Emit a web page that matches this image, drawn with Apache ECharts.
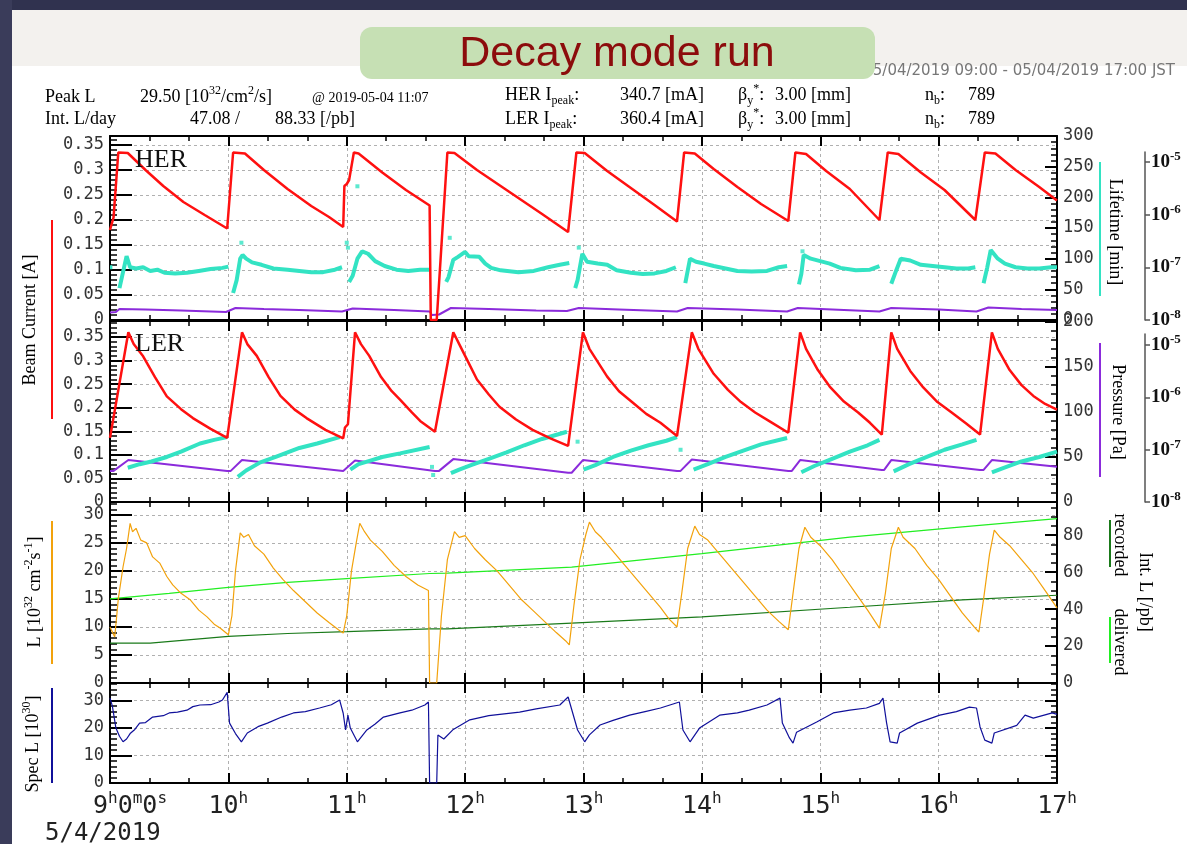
<!DOCTYPE html>
<html>
<head>
<meta charset="utf-8">
<title>Decay mode run</title>
<script src="https://cdn.jsdelivr.net/npm/echarts@6/dist/echarts.min.js"></script>
<style>
    html, body { margin: 0; padding: 0; background: #fff; }
    #chart { width: 1187px; height: 844px; }
</style>
</head>
<body>
<div id="chart"></div>
<script>
    // time axis is in decimal hours of 2019-05-04 (JST)
    const hourLabels = ['9', '10', '11', '12', '13', '14', '15', '16', '17'];

    // HER beam current [A]
    const herCurrent = [
        [9.00, 0.180], [9.03, 0.205], [9.07, 0.335], [9.15, 0.334], [9.30, 0.300], [9.45, 0.268], [9.62, 0.236], [9.80, 0.210], [9.99, 0.183],
        [10.04, 0.335], [10.14, 0.333], [10.30, 0.300], [10.50, 0.262], [10.70, 0.228], [10.85, 0.206], [10.97, 0.186],
        [10.98, 0.268], [11.00, 0.272], [11.02, 0.280], [11.06, 0.335], [11.10, 0.333], [11.30, 0.295], [11.50, 0.260], [11.70, 0.229],
        [11.71, 0.000], [11.76, 0.000], [11.85, 0.335], [11.91, 0.334], [12.10, 0.300], [12.40, 0.252], [12.65, 0.212], [12.87, 0.176],
        [12.94, 0.335], [13.01, 0.334], [13.20, 0.298], [13.40, 0.264], [13.60, 0.230], [13.79, 0.197],
        [13.85, 0.335], [13.94, 0.333], [14.10, 0.302], [14.30, 0.266], [14.50, 0.232], [14.73, 0.198],
        [14.79, 0.335], [14.88, 0.332], [15.05, 0.298], [15.25, 0.262], [15.50, 0.200],
        [15.57, 0.335], [15.66, 0.332], [15.85, 0.295], [16.05, 0.260], [16.31, 0.200],
        [16.39, 0.335], [16.48, 0.333], [16.65, 0.300], [16.85, 0.266], [17.00, 0.239]
    ];
    // HER beam lifetime [min]
    const herLifetime = [
        [9.00, 86], [9.02, 86], null,
        [9.08, 52], [9.11, 78], [9.14, 104], [9.17, 86], [9.22, 84], [9.28, 86], [9.34, 80], [9.40, 82], [9.46, 77], [9.55, 76], [9.65, 77], [9.75, 80], [9.85, 83], [9.95, 85], [10.00, 87], null,
        [10.04, 44], [10.07, 65], [10.10, 100], [10.12, 106], [10.15, 100], [10.20, 94], [10.28, 90], [10.38, 84], [10.50, 82], [10.60, 80], [10.70, 78], [10.80, 78], [10.90, 82], [10.96, 86], null,
        [11.02, 62], [11.05, 72], [11.09, 100], [11.13, 112], [11.18, 108], [11.24, 96], [11.32, 88], [11.42, 82], [11.52, 80], [11.62, 82], [11.70, 82], null,
        [11.84, 62], [11.86, 70], [11.90, 98], [11.94, 103], [12.00, 111], [12.03, 104], [12.12, 103], [12.17, 92], [12.22, 85], [12.30, 81], [12.45, 78], [12.58, 80], [12.70, 86], [12.80, 90], [12.88, 93], null,
        [12.93, 52], [12.95, 65], [12.99, 108], [13.03, 95], [13.12, 92], [13.20, 90], [13.28, 81], [13.40, 77], [13.50, 75], [13.60, 76], [13.70, 80], [13.78, 86], null,
        [13.86, 60], [13.90, 100], [13.95, 95], [14.02, 92], [14.10, 88], [14.20, 84], [14.30, 80], [14.42, 79], [14.55, 80], [14.65, 86], [14.72, 88], null,
        [14.82, 58], [14.84, 75], [14.86, 106], [14.92, 100], [15.00, 96], [15.08, 92], [15.17, 85], [15.30, 81], [15.42, 82], [15.50, 88], null,
        [15.60, 59], [15.64, 80], [15.68, 100], [15.76, 97], [15.85, 90], [15.95, 88], [16.05, 86], [16.15, 84], [16.25, 84], [16.31, 86], null,
        [16.38, 60], [16.41, 85], [16.44, 114], [16.50, 100], [16.56, 92], [16.65, 86], [16.75, 84], [16.85, 84], [16.95, 86], [17.00, 86]
    ];
    const herLifetimeDots = [[10.11, 126], [11.00, 126], [11.01, 118], [11.09, 218], [11.87, 134], [12.96, 118], [14.85, 112]];
    // HER vacuum trace, drawn on the current scale
    const herPressure = [
        [9.00, 0.015], [9.05, 0.016], [9.08, 0.022], [9.30, 0.021], [9.60, 0.019], [9.98, 0.016], [10.06, 0.024], [10.30, 0.022], [10.60, 0.020],
        [10.96, 0.017], [11.05, 0.023], [11.40, 0.020], [11.70, 0.017], [11.72, 0.010], [11.78, 0.011], [11.88, 0.024], [12.20, 0.022], [12.60, 0.019],
        [12.86, 0.018], [12.96, 0.024], [13.30, 0.021], [13.79, 0.017], [13.88, 0.024], [14.30, 0.021], [14.72, 0.017], [14.81, 0.024], [15.20, 0.020],
        [15.50, 0.017], [15.60, 0.024], [16.00, 0.021], [16.32, 0.017], [16.42, 0.025], [16.70, 0.022], [17.00, 0.020]
    ];

    // LER beam current [A]
    const lerCurrent = [
        [9.00, 0.136], [9.155, 0.360], [9.20, 0.335], [9.28, 0.309], [9.38, 0.265], [9.48, 0.224], [9.60, 0.197], [9.70, 0.178], [9.85, 0.155], [9.99, 0.136],
        [10.115, 0.360], [10.16, 0.335], [10.24, 0.310], [10.34, 0.265], [10.44, 0.225], [10.56, 0.196], [10.66, 0.178], [10.82, 0.153], [10.97, 0.135],
        [10.985, 0.158], [11.01, 0.165], [11.07, 0.360], [11.12, 0.335], [11.19, 0.310], [11.29, 0.265], [11.38, 0.235], [11.45, 0.217], [11.55, 0.190], [11.62, 0.172], [11.745, 0.149],
        [11.90, 0.360], [11.95, 0.335], [12.02, 0.300], [12.10, 0.260], [12.20, 0.228], [12.29, 0.202], [12.43, 0.175], [12.57, 0.153], [12.72, 0.135], [12.87, 0.119],
        [12.995, 0.360], [13.05, 0.325], [13.20, 0.266], [13.30, 0.235], [13.42, 0.210], [13.53, 0.187], [13.65, 0.168], [13.79, 0.140],
        [13.915, 0.360], [13.97, 0.325], [14.10, 0.272], [14.22, 0.238], [14.33, 0.212], [14.45, 0.190], [14.58, 0.170], [14.73, 0.147],
        [14.83, 0.360], [14.88, 0.325], [14.98, 0.280], [15.08, 0.245], [15.20, 0.213], [15.32, 0.190], [15.42, 0.168], [15.52, 0.143],
        [15.60, 0.360], [15.65, 0.325], [15.76, 0.278], [15.87, 0.243], [15.99, 0.212], [16.11, 0.190], [16.23, 0.167], [16.35, 0.143],
        [16.45, 0.360], [16.50, 0.325], [16.60, 0.280], [16.70, 0.248], [16.80, 0.225], [16.90, 0.208], [17.00, 0.196]
    ];
    // LER beam lifetime, right scale
    const lerLifetime = [
        [9.15, 38], [9.25, 42], [9.35, 45], [9.48, 50], [9.60, 56], [9.76, 65], [9.88, 69], [9.99, 72], null,
        [10.08, 28], [10.15, 35], [10.27, 44], [10.40, 50], [10.60, 60], [10.75, 65], [10.94, 72], null,
        [11.03, 36], [11.10, 42], [11.20, 46], [11.30, 50], [11.45, 54], [11.70, 61], null,
        [11.88, 32], [11.95, 36], [12.05, 41], [12.20, 48], [12.35, 55], [12.50, 63], [12.65, 70], [12.86, 78], null,
        [13.00, 36], [13.10, 41], [13.25, 50], [13.40, 57], [13.55, 63], [13.70, 68], [13.79, 72], null,
        [13.93, 36], [14.05, 42], [14.20, 50], [14.35, 57], [14.50, 64], [14.72, 71], null,
        [14.84, 33], [14.95, 40], [15.10, 48], [15.25, 56], [15.40, 63], [15.50, 69], null,
        [15.62, 34], [15.75, 42], [15.90, 50], [16.05, 58], [16.20, 64], [16.32, 69], null,
        [16.45, 33], [16.55, 38], [16.70, 45], [16.85, 50], [17.00, 56]
    ];
    const lerLifetimeDots = [[11.72, 39], [11.73, 30], [12.95, 67], [13.82, 58]];
    // LER vacuum trace, drawn on the current scale
    const lerPressure = [
        [9.00, 0.066], [9.03, 0.066], [9.155, 0.089], [9.99, 0.066], [10.02, 0.066], [10.115, 0.089], [10.97, 0.066], [11.07, 0.088],
        [11.745, 0.066], [11.78, 0.066], [11.90, 0.091], [12.87, 0.062], [12.90, 0.062], [12.995, 0.089], [13.79, 0.066], [13.82, 0.066],
        [13.915, 0.090], [14.73, 0.066], [14.76, 0.066], [14.83, 0.089], [15.52, 0.068], [15.54, 0.068], [15.60, 0.089], [16.35, 0.068],
        [16.38, 0.068], [16.45, 0.089], [17.00, 0.075]
    ];

    // luminosity [1e32 cm-2 s-1]
    const luminosity = [
        [9.00, 10.0], [9.04, 8.2], [9.07, 15.0], [9.11, 20.7], [9.14, 24.0], [9.17, 28.5], [9.19, 27.0], [9.22, 27.6], [9.26, 25.5], [9.31, 25.0], [9.36, 22.5], [9.42, 21.4], [9.48, 19.0], [9.53, 17.5], [9.60, 16.0], [9.68, 14.8], [9.75, 13.0], [9.82, 11.8], [9.88, 10.5], [9.93, 9.8], [10.00, 8.6],
        [10.03, 12.0], [10.06, 20.0], [10.10, 26.8], [10.13, 26.0], [10.17, 26.5], [10.22, 24.5], [10.30, 23.0], [10.38, 20.5], [10.46, 18.5], [10.55, 16.5], [10.65, 14.5], [10.75, 12.5], [10.85, 10.8], [10.93, 9.5], [10.97, 8.9],
        [11.00, 12.0], [11.04, 20.0], [11.08, 25.0], [11.11, 28.5], [11.15, 27.0], [11.20, 25.5], [11.30, 23.5], [11.40, 21.0], [11.50, 19.0], [11.60, 17.5], [11.69, 16.5], [11.70, 0], [11.76, 0], [11.80, 12.0], [11.85, 22.0], [11.91, 27.0],
        [11.95, 26.0], [12.00, 26.3], [12.08, 24.0], [12.17, 22.0], [12.27, 20.0], [12.37, 17.5], [12.47, 15.0], [12.57, 13.0], [12.67, 11.0], [12.77, 9.0], [12.85, 7.5], [12.88, 6.8],
        [12.92, 14.0], [12.97, 22.0], [13.02, 26.5], [13.05, 28.7], [13.10, 27.0], [13.15, 26.0], [13.25, 23.5], [13.35, 21.0], [13.45, 18.5], [13.55, 16.0], [13.65, 13.5], [13.72, 11.5], [13.79, 10.0],
        [13.83, 16.0], [13.88, 24.0], [13.94, 28.0], [13.98, 26.5], [14.05, 25.5], [14.15, 23.0], [14.25, 20.5], [14.35, 18.0], [14.45, 15.5], [14.55, 13.0], [14.65, 11.0], [14.73, 9.5],
        [14.77, 16.0], [14.82, 24.0], [14.87, 27.8], [14.92, 26.0], [15.00, 24.5], [15.10, 22.0], [15.20, 19.0], [15.30, 16.0], [15.40, 13.0], [15.50, 9.8],
        [15.55, 16.0], [15.60, 24.0], [15.66, 27.8], [15.70, 26.0], [15.80, 24.0], [15.90, 21.0], [16.00, 18.5], [16.10, 15.5], [16.20, 12.5], [16.30, 10.0], [16.34, 9.1],
        [16.38, 15.0], [16.43, 23.0], [16.47, 27.3], [16.52, 26.0], [16.60, 24.5], [16.70, 22.0], [16.80, 19.5], [16.90, 16.5], [17.00, 13.4]
    ];
    // integrated luminosity [/pb]
    const intDelivered = [[9.00, 45.5], [9.50, 48.5], [10.00, 51.8], [10.50, 54.5], [11.00, 56.5], [11.70, 59.3], [11.85, 59.5], [12.90, 62.7], [14.00, 70.0], [15.25, 79.0], [16.20, 84.5], [17.00, 89.0]];
    const intRecorded = [[9.00, 21.6], [9.34, 21.6], [10.00, 25.2], [10.50, 26.8], [11.00, 27.8], [11.70, 29.3], [11.85, 29.3], [12.90, 32.4], [14.00, 35.8], [15.25, 41.0], [16.20, 45.0], [17.00, 47.5]];

    // specific luminosity [1e30]
    const specLumi = [
        [9.00, 30.9], [9.02, 28.0], [9.05, 20.0], [9.08, 17.0], [9.11, 15.0], [9.14, 16.0], [9.17, 18.0], [9.21, 19.5], [9.25, 21.8], [9.30, 22.0], [9.36, 24.0], [9.45, 24.5], [9.50, 25.5], [9.57, 25.8], [9.65, 26.5], [9.70, 27.8], [9.76, 28.4], [9.85, 28.5], [9.92, 29.5], [9.95, 30.2], [9.99, 33.0],
        [10.01, 21.8], [10.06, 18.0], [10.11, 15.0], [10.16, 18.2], [10.25, 20.5], [10.33, 21.8], [10.45, 24.0], [10.55, 25.5], [10.65, 26.0], [10.77, 27.3], [10.87, 28.5], [10.94, 30.2], [10.97, 25.4], [10.99, 19.3], [11.01, 24.7], [11.03, 20.0], [11.09, 15.0], [11.17, 19.3], [11.24, 21.5], [11.31, 24.0], [11.45, 25.5], [11.55, 26.5], [11.66, 28.4], [11.69, 29.5],
        [11.70, 0], [11.76, 0], [11.77, 17.5], [11.82, 16.0], [11.90, 19.5], [12.04, 23.0], [12.20, 24.5], [12.46, 25.8], [12.60, 27.0], [12.80, 28.4], [12.87, 31.3],
        [12.95, 19.3], [13.01, 15.0], [13.05, 17.5], [13.14, 21.1], [13.25, 22.8], [13.39, 24.7], [13.52, 26.0], [13.65, 27.3], [13.81, 29.5],
        [13.84, 19.3], [13.90, 15.0], [13.98, 20.0], [14.07, 22.5], [14.15, 24.7], [14.30, 25.5], [14.40, 26.5], [14.55, 28.4], [14.66, 30.9],
        [14.68, 21.8], [14.74, 16.4], [14.77, 14.5], [14.80, 18.5], [14.97, 22.2], [15.11, 25.5], [15.25, 26.5], [15.39, 27.3], [15.50, 29.0], [15.53, 30.9],
        [15.56, 22.0], [15.59, 15.0], [15.65, 14.5], [15.67, 18.2], [15.82, 21.8], [16.01, 24.7], [16.15, 26.0], [16.26, 27.6], [16.32, 27.3],
        [16.35, 20.4], [16.39, 15.6], [16.45, 14.5], [16.47, 18.2], [16.66, 21.0], [16.73, 24.7], [16.80, 23.6], [16.96, 25.5], [17.00, 25.0]
    ];

    const mono = 'DejaVu Sans Mono';
    const serif = 'Liberation Serif';
    const dash = {show: true, lineStyle: {color: '#b0b0b0', type: [3, 3], width: 1}};
    const black = {color: '#000', width: 2};
    const panels = [
        {top: 136, height: 184},
        {top: 321, height: 181},
        {top: 502, height: 181},
        {top: 683, height: 100}
    ];

    let xAxes = [];
    panels.forEach((p, i) => {
        let base = {
            gridIndex: i, type: 'value', min: 9, max: 17, interval: 1,
            axisLine: {show: true, onZero: false, lineStyle: black},
            axisTick: {show: true, inside: true, length: 10, lineStyle: black},
            minorTick: {show: true, splitNumber: 3, length: 5, lineStyle: {color: '#000', width: 1.5}}
        };
        xAxes.push(Object.assign({}, base, {
            position: 'bottom',
            splitLine: dash,
            axisLabel: {
                show: i === 3, margin: 8,
                formatter: (v) => {
                    let k = Math.round(v - 9);
                    if (k === 0) return '{f|9}{s|h}{b|0}{s|m}{b|0}{s|s}';
                    return '{b|' + hourLabels[k] + '}{s|h}';
                },
                rich: {
                    f: {fontFamily: mono, fontSize: 25, lineHeight: 30, color: '#222', padding: [0, 0, 0, 40]},
                    b: {fontFamily: mono, fontSize: 25, lineHeight: 30, color: '#222'},
                    s: {fontFamily: mono, fontSize: 16, lineHeight: 30, color: '#222', verticalAlign: 'top'}
                }
            }
        }));
        xAxes.push(Object.assign({}, base, {
            position: 'top', splitLine: {show: false}, axisLabel: {show: false}
        }));
    });
    xAxes.push({gridIndex: 4, type: 'value', show: false});
    xAxes.push({gridIndex: 5, type: 'value', show: false});

    function yAx(grid, pos, max, interval, major, minorSplit, minorLen, showLabel, split) {
        let onStep = Math.abs(max / interval - Math.round(max / interval)) < 1e-6;
        return {
            gridIndex: grid, type: 'value', position: pos, min: 0, max: max, interval: interval,
            axisLine: {show: true, onZero: false, lineStyle: black},
            axisTick: {show: true, inside: true, length: major, lineStyle: black},
            minorTick: {show: true, splitNumber: minorSplit, length: minorLen, lineStyle: {color: '#000', width: 1.5}},
            splitLine: split ? dash : {show: false},
            axisLabel: {show: showLabel, showMaxLabel: onStep, margin: 6, fontFamily: mono, fontSize: 17, color: '#333'}
        };
    }
    function logAx(grid, max) {
        return {
            gridIndex: grid, type: 'value', position: 'right', min: -8, max: max, interval: 1,
            axisLine: {show: true, onZero: false, lineStyle: {color: '#555', width: 1.5}},
            axisTick: {show: true, inside: false, length: 5, lineStyle: {color: '#555', width: 1.5}},
            splitLine: {show: false},
            axisLabel: {
                margin: 6, showMaxLabel: false, formatter: (v) => '{b|10}{s|' + v + '}',
                rich: {
                    b: {fontFamily: serif, fontSize: 19, fontWeight: 'bold', lineHeight: 24, color: '#111'},
                    s: {fontFamily: serif, fontSize: 13, fontWeight: 'bold', lineHeight: 24, color: '#111', verticalAlign: 'top'}
                }
            }
        };
    }
    const yAxes = [
        yAx(0, 'left', 0.368, 0.05, 22, 5, 7, true, true),
        yAx(0, 'right', 300, 50, 12, 5, 6, true, false),
        yAx(1, 'left', 0.384, 0.05, 22, 5, 7, true, true),
        yAx(1, 'right', 201, 50, 12, 5, 6, true, false),
        yAx(2, 'left', 32.3, 5, 22, 5, 7, true, true),
        yAx(2, 'right', 98, 20, 12, 4, 6, true, false),
        yAx(3, 'left', 36.4, 10, 22, 5, 7, true, true),
        yAx(3, 'right', 36.4, 10, 12, 5, 6, false, false),
        logAx(4, -4.81),
        logAx(5, -4.79)
    ];

    const grids = panels.map(p => ({left: 110, right: 130, top: p.top, height: p.height, containLabel: false, outerBoundsMode: 'none'}));
    grids.push({left: 1144, width: 1, top: 152, height: 168, containLabel: false, outerBoundsMode: 'none'});
    grids.push({left: 1144, width: 1, top: 334, height: 168, containLabel: false, outerBoundsMode: 'none'});

    function line(data, x, y, color, width) {
        return {type: 'line', data: data, xAxisIndex: x, yAxisIndex: y, showSymbol: false, symbol: 'none',
            connectNulls: false, lineStyle: {color: color, width: width}, itemStyle: {color: color}, z: 3};
    }
    function dots(data, x, y, color) {
        return {type: 'scatter', data: data, xAxisIndex: x, yAxisIndex: y, symbol: 'rect', symbolSize: 4,
            itemStyle: {color: color}, z: 3};
    }
    const red = '#ff1010', cyan = '#33e3c3', purple = '#8b2bdb';

    // text helpers for the slide decoration
    const rich = {
        t: {fontFamily: serif, fontSize: 18, lineHeight: 24, fill: '#000'},
        p: {fontFamily: serif, fontSize: 12, lineHeight: 24, verticalAlign: 'top', fill: '#000'},
        d: {fontFamily: serif, fontSize: 12, lineHeight: 24, verticalAlign: 'bottom', fill: '#000'},
        m: {fontFamily: serif, fontSize: 14, lineHeight: 24, fill: '#000'}
    };
    function txt(x, y, text, rot, align) {
        return {type: 'text', x: x, y: y, rotation: rot || 0, z: 5,
            style: {text: text, rich: rich, align: align || 'left', verticalAlign: 'middle', fontFamily: serif, fontSize: 18, fill: '#000'}};
    }
    function bar(x, y1, y2, color) {
        return {type: 'line', shape: {x1: x, y1: y1, x2: x, y2: y2}, style: {stroke: color, lineWidth: 2}, z: 5};
    }
    const up = Math.PI / 2, down = -Math.PI / 2;

    const graphics = [
        {type: 'rect', shape: {x: 0, y: 0, width: 1187, height: 10}, style: {fill: '#30324f'}, z: 1},
        {type: 'rect', shape: {x: 0, y: 0, width: 12, height: 844}, style: {fill: '#3a3c5a'}, z: 1},
        {type: 'rect', shape: {x: 12, y: 10, width: 1175, height: 56}, style: {fill: '#f3f1ee'}, z: 1},
        {type: 'text', x: 1175, y: 71, z: 2, style: {text: '05/04/2019 09:00 - 05/04/2019 17:00 JST', align: 'right', verticalAlign: 'middle',
            fontFamily: 'DejaVu Sans', fontSize: 15, fill: '#777'}},
        {type: 'rect', shape: {x: 360, y: 27, width: 515, height: 52, r: 12}, style: {fill: '#c6e0b4'}, z: 3},
        {type: 'text', x: 617, y: 54, z: 4, style: {text: 'Decay mode run', align: 'center', verticalAlign: 'middle',
            fontFamily: 'Liberation Sans', fontSize: 43, fill: '#8c0c0c'}},

        txt(45, 97, '{t|Peak L}'),
        txt(140, 97, '{t|29.50 [10}{p|32}{t|/cm}{p|2}{t|/s]}'),
        txt(312, 98, '{m|@ 2019-05-04 11:07}'),
        txt(45, 119, '{t|Int. L/day}'),
        txt(190, 119, '{t|47.08 /}'),
        txt(275, 119, '{t|88.33 [/pb]}'),
        txt(505, 95, '{t|HER I}{d|peak}{t|:}'),
        txt(620, 95, '{t|340.7 [mA]}'),
        txt(738, 95, '{t|β}{d|y}{p|*}{t|:}'),
        txt(775, 95, '{t|3.00 [mm]}'),
        txt(925, 95, '{t|n}{d|b}{t|:}'),
        txt(968, 95, '{t|789}'),
        txt(505, 119, '{t|LER I}{d|peak}{t|:}'),
        txt(620, 119, '{t|360.4 [mA]}'),
        txt(738, 119, '{t|β}{d|y}{p|*}{t|:}'),
        txt(775, 119, '{t|3.00 [mm]}'),
        txt(925, 119, '{t|n}{d|b}{t|:}'),
        txt(968, 119, '{t|789}'),

        {type: 'text', x: 135, y: 160, z: 5, style: {text: 'HER', verticalAlign: 'middle', fontFamily: serif, fontSize: 26, fill: '#111'}},
        {type: 'text', x: 135, y: 344, z: 5, style: {text: 'LER', verticalAlign: 'middle', fontFamily: serif, fontSize: 26, fill: '#111'}},

        txt(30, 320, '{t|Beam Current [A]}', up, 'center'),
        bar(52, 220, 419, red),
        txt(35, 592, '{t|L [10}{p|32}{t| cm}{p|-2}{t|s}{p|-1}{t|]}', up, 'center'),
        bar(52, 521, 664, '#f2a20c'),
        txt(33, 744, '{t|Spec L [10}{p|30}{t|]}', up, 'center'),
        bar(52, 688, 783, '#10109a'),
        txt(1115, 232, '{t|Lifetime [min]}', down, 'center'),
        bar(1100, 162, 296, cyan),
        txt(1118, 412, '{t|Pressure [Pa]}', down, 'center'),
        bar(1100, 343, 477, purple),
        txt(1120, 545, '{t|recorded}', down, 'center'),
        bar(1110, 520, 567, '#1a7a1a'),
        txt(1120, 642, '{t|delivered}', down, 'center'),
        bar(1110, 617, 663, '#22ee22'),
        txt(1145, 592, '{t|Int. L [/pb]}', down, 'center'),

        {type: 'text', x: 45, y: 834, z: 5, style: {text: '5/4/2019', verticalAlign: 'middle', fontFamily: mono, fontSize: 24, fill: '#222'}}
    ];

    const chart = echarts.init(document.getElementById('chart'));
    chart.setOption({
        animation: false,
        backgroundColor: '#fff',
        grid: grids,
        xAxis: xAxes,
        yAxis: yAxes,
        graphic: graphics,
        series: [
            line(herPressure, 0, 0, purple, 2),
            line(herLifetime, 0, 1, cyan, 4),
            dots(herLifetimeDots, 0, 1, cyan),
            line(herCurrent, 0, 0, red, 2.5),
            line(lerPressure, 2, 2, purple, 2),
            line(lerLifetime, 2, 3, cyan, 4),
            dots(lerLifetimeDots, 2, 3, cyan),
            line(lerCurrent, 2, 2, red, 2.5),
            line(intDelivered, 4, 5, '#22ee22', 1.2),
            line(intRecorded, 4, 5, '#1a7a1a', 1.2),
            line(luminosity, 4, 4, '#f2a20c', 1.2),
            line(specLumi, 6, 6, '#10109a', 1.2)
        ]
    });
</script>
</body>
</html>
